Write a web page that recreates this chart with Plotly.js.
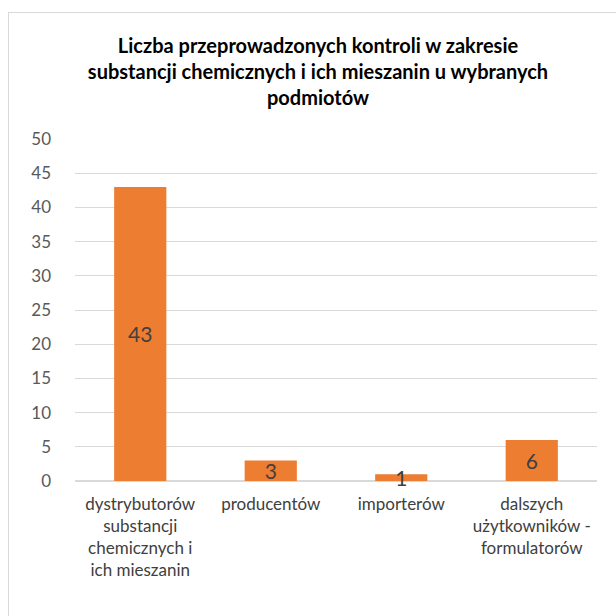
<!DOCTYPE html>
<html>
<head>
<meta charset="utf-8">
<script src="https://cdn.plot.ly/plotly-3.0.1.min.js"></script>
<style>
  html, body { margin: 0; padding: 0; overflow: hidden; background: #fff; }
  #wrap { position: relative; width: 616px; height: 616px; overflow: hidden; }
  #frame { position: absolute; left: 8px; top: 12px; width: 640px; height: 640px; border: 1.5px solid #D9D9D9; box-sizing: border-box; pointer-events: none; }
  #chart { position: absolute; left: 0; top: 0; width: 616px; height: 616px; }
</style>
</head>
<body>
<div id="wrap">
  <div id="chart"></div>
  <div id="frame"></div>
</div>
<script>
const chartTitle = "Liczba przeprowadzonych kontroli w zakresie<br>substancji chemicznych i ich mieszanin u wybranych<br>podmiotów";
const categories = [
  "dystrybutorów<br>substancji<br>chemicznych i<br>ich mieszanin",
  "producentów",
  "importerów",
  "dalszych<br>użytkowników -<br>formulatorów"
];
const values = [43, 3, 1, 6];
const yTicks = [0, 5, 10, 15, 20, 25, 30, 35, 40, 45, 50];

const FONT = "Lato, 'Open Sans', sans-serif";

const trace = {
  type: "bar",
  x: categories,
  y: values,
  text: values.map(String),
  textposition: "inside",
  insidetextanchor: "middle",
  constraintext: "none",
  textangle: 0,
  textfont: { family: FONT, size: 21, color: "#404040" },
  marker: { color: "#ED7D31", line: { width: 0 } },
  cliponaxis: false,
  hoverinfo: "none"
};

const layout = {
  width: 616,
  height: 616,
  margin: { l: 75, r: 19, t: 139, b: 135 },
  paper_bgcolor: "#ffffff",
  plot_bgcolor: "#ffffff",
  showlegend: false,
  bargap: 0.6,
  font: { family: FONT, color: "#595959" },
  title: {
    text: chartTitle,
    font: { family: FONT, size: 20, color: "#000000", weight: "bold" },
    x: 318 / 616,
    xanchor: "center",
    xref: "container",
    y: 1 - 53 / 616,
    yanchor: "top",
    yref: "container"
  },
  xaxis: {
    type: "category",
    showgrid: false,
    showline: false,
    ticks: "",
    tickfont: { family: FONT, size: 17, color: "#404040" },
    ticklabelstandoff: 11
  },
  yaxis: {
    range: [0, 50],
    tickvals: yTicks,
    ticktext: yTicks.map(String),
    showgrid: true,
    gridcolor: "#D9D9D9",
    gridwidth: 1,
    zeroline: true,
    zerolinecolor: "#D9D9D9",
    zerolinewidth: 1.5,
    showline: false,
    ticks: "",
    tickfont: { family: FONT, size: 17, color: "#595959" },
    ticklabelstandoff: 23
  }
};

Plotly.newPlot("chart", [trace], layout, { displayModeBar: false, staticPlot: true });
</script>
</body>
</html>
